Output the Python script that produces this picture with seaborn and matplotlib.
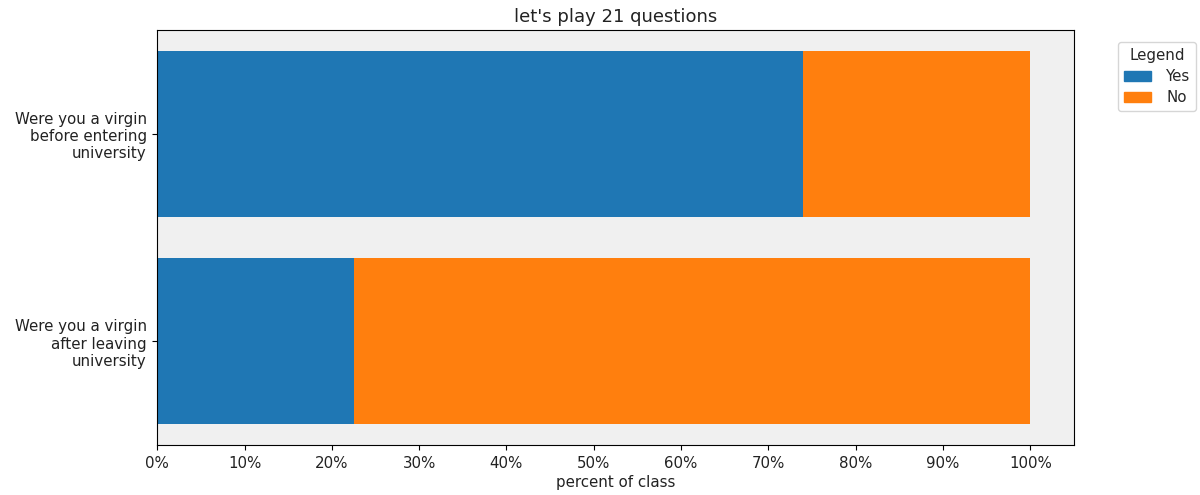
import matplotlib
matplotlib.use("Agg")
import matplotlib.pyplot as plt
import matplotlib.patches as mpatches
from matplotlib.ticker import PercentFormatter
import seaborn as sns
import pandas as pd

# 데이터
questions = ["Were you a virgin\nbefore entering\nuniversity",
             "Were you a virgin\nafter leaving\nuniversity"]
yes_pct = [74.0, 22.5]
no_pct = [26.0, 77.5]

sns.set_theme(style="white")
plt.rcParams['font.family'] = ['DejaVu Sans']

df = pd.DataFrame({"question": questions, "Yes": yes_pct, "No": no_pct})
df["total"] = df["Yes"] + df["No"]

fig, ax = plt.subplots(figsize=(12, 4.95), dpi=100)
fig.subplots_adjust(left=0.131, right=0.895, top=0.939, bottom=0.101)

# 누적 막대: 전체(No) 먼저, 그 위에 Yes
sns.barplot(data=df, x="total", y="question", color="#ff7f0e",
            saturation=1, width=0.8, ax=ax, orient="h", linewidth=0)
sns.barplot(data=df, x="Yes", y="question", color="#1f77b4",
            saturation=1, width=0.8, ax=ax, orient="h", linewidth=0)

ax.set_facecolor("#f0f0f0")
for s in ax.spines.values():
    s.set_visible(True)
    s.set_color("black")
    s.set_linewidth(0.8)

fs = 10.8
ax.set_xlim(0, 105)
ax.set_xticks(range(0, 101, 10))
ax.xaxis.set_major_formatter(PercentFormatter(decimals=0))
ax.tick_params(axis="both", which="both", bottom=True, left=True,
               length=3.8, width=0.8, color="black", labelsize=fs,
               labelcolor="#222222", pad=3.8)
ax.set_xlabel("percent of class", fontsize=fs, color="#222222", labelpad=3)
ax.set_ylabel("")
ax.set_title("let's play 21 questions", fontsize=13, color="#222222", pad=6)

handles = [mpatches.Patch(color="#1f77b4", label="Yes"),
           mpatches.Patch(color="#ff7f0e", label="No")]
ax.legend(handles=handles, title="Legend", loc="upper left",
          bbox_to_anchor=(1.048, 0.971), borderaxespad=0,
          fontsize=fs, title_fontsize=fs, handletextpad=1.0,
          handlelength=1.8, labelspacing=0.4)

fig.savefig("out.png", dpi=100)
